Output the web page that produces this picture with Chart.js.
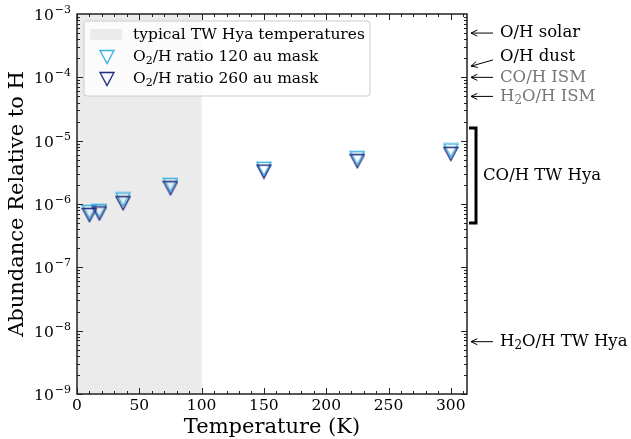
<!DOCTYPE html>
<html>
<head>
<meta charset="utf-8">
<script src="https://cdn.jsdelivr.net/npm/chart.js@4.4.1/dist/chart.umd.min.js"></script>
<style>
  html, body { margin: 0; padding: 0; background: #fff; }
</style>
</head>
<body>
<canvas id="abund" width="631" height="439"></canvas>
<script>
// temperatures (K) and O2/H upper limits for the two masks
const temps = [10, 18, 37, 75, 150, 225, 300];
const ratio120 = [7.5e-7, 7.8e-7, 1.18e-6, 2.0e-6, 3.6e-6, 5.3e-6, 7.0e-6];
const ratio260 = [6.7e-7, 7.1e-7, 1.03e-6, 1.78e-6, 3.25e-6, 4.75e-6, 6.2e-6];

const xTicks = [0, 50, 100, 150, 200, 250, 300];
const yTicks = [1e-9, 1e-8, 1e-7, 1e-6, 1e-5, 1e-4, 1e-3];
const bandRange = [0, 100];

// reference abundances marked on the right of the axes
const noteLabels = ['O/H solar', 'O/H dust', 'CO/H ISM', 'H_2O/H ISM', 'H_2O/H TW Hya'];
const noteValues = [5e-4, 1.5e-4, 1e-4, 5e-5, 6.7e-9];
const noteTextValues = [5e-4, 2.1e-4, 1e-4, 5e-5, 6.7e-9];
const noteGray = [false, false, true, true, false];
const coRange = [5e-7, 1.58e-5];
const coLabel = 'CO/H TW Hya';

const SERIF = 'DejaVu Serif';
const col120 = '#3bb2e0';
const col260 = '#1f2f82';

function marker(color) {
  const c = document.createElement('canvas');
  c.width = 16; c.height = 16;
  const g = c.getContext('2d');
  g.strokeStyle = color;
  g.lineWidth = 1.4;
  g.beginPath();
  g.moveTo(1, 1.5); g.lineTo(15, 1.5); g.lineTo(8, 14.5); g.closePath();
  g.stroke();
  return c;
}
const mk120 = marker(col120);
const mk260 = marker(col260);

// text with _2 style subscripts
function richText(ctx, text, x, y, size, color) {
  const parts = text.split(/_(\d)/);
  ctx.fillStyle = color;
  ctx.textBaseline = 'middle';
  ctx.textAlign = 'left';
  for (let i = 0; i < parts.length; i++) {
    if (i % 2) {
      ctx.font = Math.round(size * 0.7) + 'px ' + SERIF;
      ctx.fillText(parts[i], x, y + size * 0.28);
    } else {
      ctx.font = size + 'px ' + SERIF;
      ctx.fillText(parts[i], x, y);
    }
    x += ctx.measureText(parts[i]).width;
  }
}

const decor = {
  id: 'decor',
  beforeDatasetsDraw(chart) {
    const {ctx, chartArea: a, scales: {x}} = chart;
    ctx.save();
    ctx.fillStyle = '#ebebeb';
    const x0 = x.getPixelForValue(bandRange[0]), x1 = x.getPixelForValue(bandRange[1]);
    ctx.fillRect(x0, a.top, x1 - x0, a.bottom - a.top);
    ctx.restore();
  },
  afterDatasetsDraw(chart) {
    const {ctx, chartArea: a, scales: {x, y}} = chart;
    ctx.save();
    ctx.strokeStyle = '#222';
    ctx.lineWidth = 1;

    // inward ticks, all four sides
    ctx.beginPath();
    for (let v = 0; v <= x.max; v += 10) {
      const px = Math.round(x.getPixelForValue(v)) + 0.5;
      const len = v % 50 === 0 ? 6 : 3;
      ctx.moveTo(px, a.bottom); ctx.lineTo(px, a.bottom - len);
      ctx.moveTo(px, a.top); ctx.lineTo(px, a.top + len);
    }
    for (let e = -9; e < -3; e++) {
      for (let m = 1; m <= 9; m++) {
        const py = Math.round(y.getPixelForValue(m * Math.pow(10, e))) + 0.5;
        const len = m === 1 ? 6 : 3;
        ctx.moveTo(a.left, py); ctx.lineTo(a.left + len, py);
        ctx.moveTo(a.right, py); ctx.lineTo(a.right - len, py);
      }
    }
    ctx.stroke();

    // frame
    ctx.lineWidth = 1.5;
    ctx.strokeRect(a.left, a.top, a.right - a.left, a.bottom - a.top);

    // y tick labels 10^n
    ctx.fillStyle = '#000';
    ctx.textBaseline = 'middle';
    yTicks.forEach(v => {
      const py = y.getPixelForValue(v);
      const ex = '\u2212' + Math.round(-Math.log10(v));
      ctx.font = '11px ' + SERIF;
      ctx.textAlign = 'right';
      ctx.fillText(ex, 71, py - 4);
      const w = ctx.measureText(ex).width;
      ctx.font = '15.5px ' + SERIF;
      ctx.fillText('10', 71 - w - 1, py + 2);
    });

    // axis titles
    ctx.font = '21px ' + SERIF;
    ctx.textAlign = 'center';
    ctx.fillText('Temperature (K)', (a.left + a.right) / 2, 428);
    ctx.save();
    ctx.translate(18, (a.top + a.bottom) / 2);
    ctx.rotate(-Math.PI / 2);
    ctx.fillText('Abundance Relative to H', 0, 0);
    ctx.restore();

    // legend
    const lx = 84, ly = 21, lw = 286, lh = 75;
    ctx.beginPath();
    ctx.roundRect(lx, ly, lw, lh, 3);
    ctx.fillStyle = 'rgba(255,255,255,0.8)';
    ctx.fill();
    ctx.strokeStyle = '#cccccc';
    ctx.lineWidth = 1;
    ctx.stroke();
    ctx.fillStyle = '#ebebeb';
    ctx.fillRect(90, 29, 32, 11);
    richText(ctx, 'typical TW Hya temperatures', 133, 35, 15.5, '#000');
    ctx.drawImage(mk120, 99, 49);
    richText(ctx, 'O_2/H ratio 120 au mask', 133, 57, 15.5, '#000');
    ctx.drawImage(mk260, 99, 71);
    richText(ctx, 'O_2/H ratio 260 au mask', 133, 79, 15.5, '#000');

    // right side notes with arrows
    ctx.strokeStyle = '#000';
    ctx.lineWidth = 1;
    noteLabels.forEach((lab, i) => {
      const tipY = y.getPixelForValue(noteValues[i]);
      const txtY = y.getPixelForValue(noteTextValues[i]);
      const tipX = a.right + 4, tailX = a.right + 26;
      const tailY = tipY === txtY ? txtY : txtY + 3;
      ctx.beginPath();
      ctx.moveTo(tailX, tailY); ctx.lineTo(tipX, tipY);
      const ang = Math.atan2(tailY - tipY, tailX - tipX);
      ctx.moveTo(tipX + 7 * Math.cos(ang + 0.45), tipY + 7 * Math.sin(ang + 0.45));
      ctx.lineTo(tipX, tipY);
      ctx.lineTo(tipX + 7 * Math.cos(ang - 0.45), tipY + 7 * Math.sin(ang - 0.45));
      ctx.stroke();
      richText(ctx, lab, a.right + 33, txtY, 16.5, noteGray[i] ? '#777' : '#000');
    });

    // CO/H TW Hya bracket
    const bTop = y.getPixelForValue(coRange[1]), bBot = y.getPixelForValue(coRange[0]);
    ctx.lineWidth = 3;
    ctx.beginPath();
    ctx.moveTo(a.right + 2, bTop); ctx.lineTo(a.right + 9, bTop);
    ctx.lineTo(a.right + 9, bBot); ctx.lineTo(a.right + 2, bBot);
    ctx.stroke();
    richText(ctx, coLabel, a.right + 16, (bTop + bBot) / 2, 16.5, '#000');
    ctx.restore();
  }
};

new Chart(document.getElementById('abund'), {
  type: 'scatter',
  data: {
    datasets: [
      {
        label: 'O2/H ratio 120 au mask',
        data: temps.map((t, i) => ({x: t, y: ratio120[i]})),
        pointStyle: mk120,
        pointRadius: 8,
        order: 2
      },
      {
        label: 'O2/H ratio 260 au mask',
        data: temps.map((t, i) => ({x: t, y: ratio260[i]})),
        pointStyle: mk260,
        pointRadius: 8,
        order: 1
      }
    ]
  },
  options: {
    responsive: false,
    animation: false,
    devicePixelRatio: 1,
    layout: {padding: {left: 0, right: 164, top: 14, bottom: 0}},
    plugins: {legend: {display: false}, tooltip: {enabled: false}},
    scales: {
      x: {
        type: 'linear', min: 0, max: 313,
        grid: {display: false, drawTicks: false},
        border: {display: false},
        afterBuildTicks: s => { s.ticks = xTicks.map(v => ({value: v})); },
        afterFit: s => { s.height = 45; },
        ticks: {font: {family: SERIF, size: 15.5}, color: '#000', padding: 3, maxRotation: 0}
      },
      y: {
        type: 'logarithmic', min: 1e-9, max: 1e-3,
        grid: {display: false, drawTicks: false},
        border: {display: false},
        afterBuildTicks: s => { s.ticks = yTicks.map(v => ({value: v})); },
        afterFit: s => { s.width = 77; },
        ticks: {callback: () => ''}
      }
    }
  },
  plugins: [decor]
});
</script>
</body>
</html>
